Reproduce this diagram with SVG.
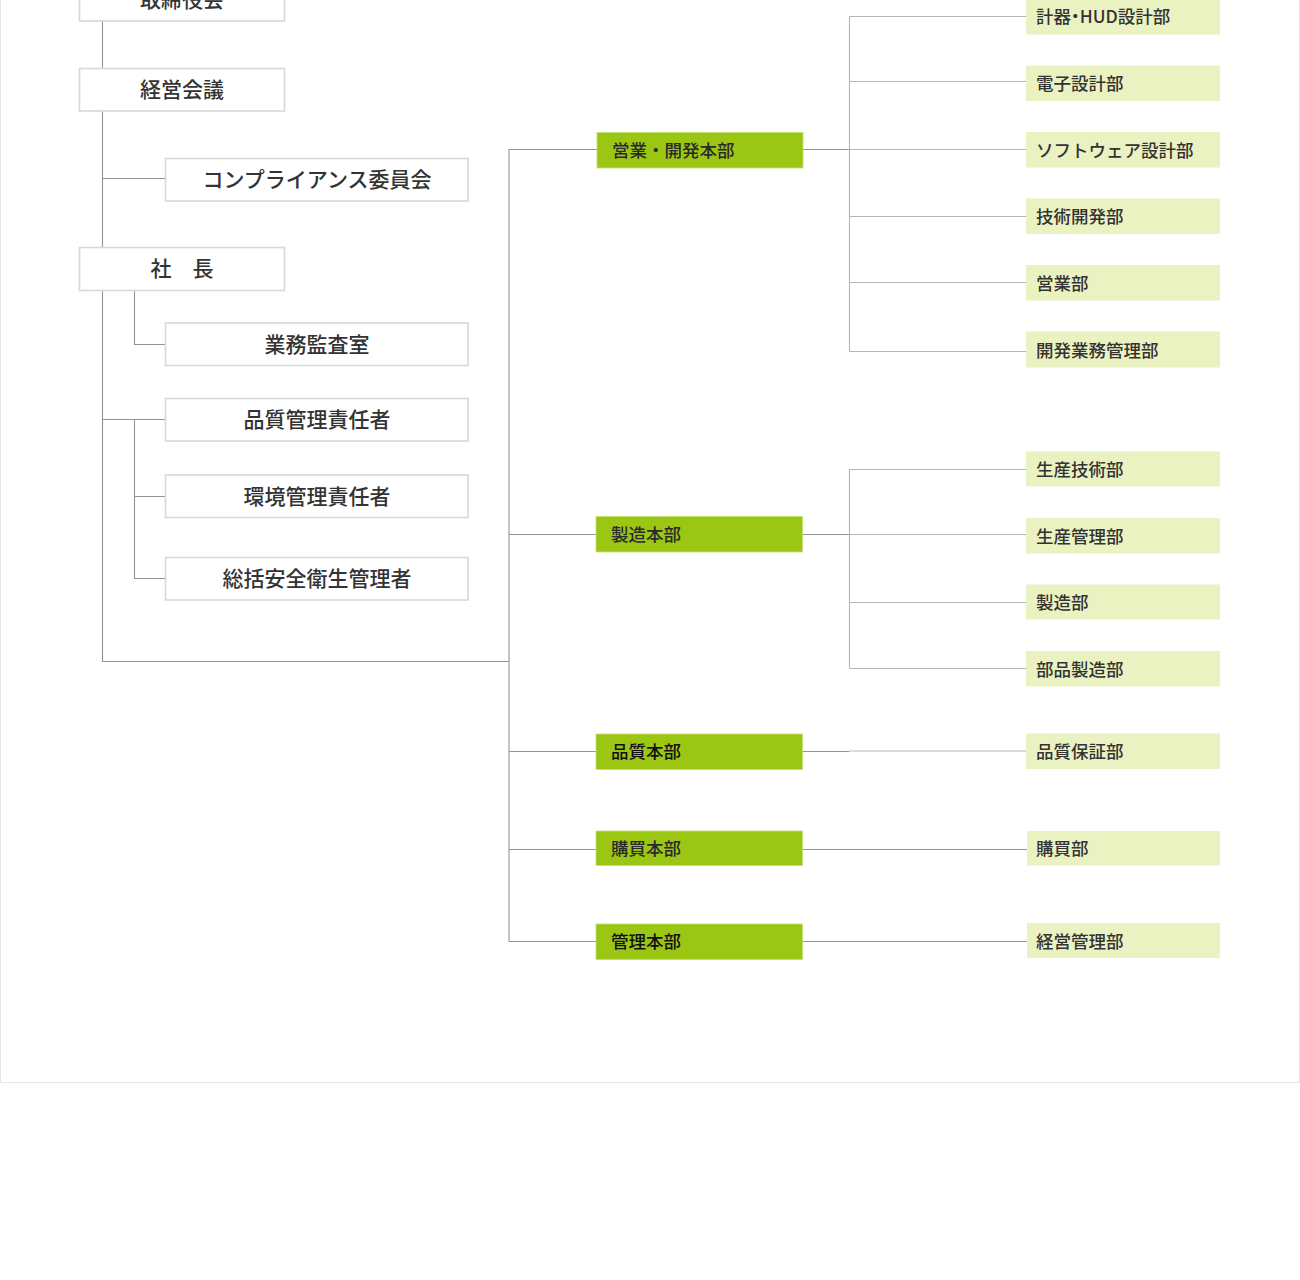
<svg xmlns="http://www.w3.org/2000/svg" width="1300" height="1280" viewBox="0 0 1300 1280">
<style>
.frame{fill:#fff;stroke:#e6e6e6;stroke-width:1}
.wb{fill:#fff;stroke:#d8d8d8;stroke-width:1.6}
.gb{fill:#9cc614;stroke:#c2df6e;stroke-width:0.8}
.lb{fill:#ebf2c2}
.ln{fill:none;stroke:#939393;stroke-width:1.1}
.ln2{fill:none;stroke:#b5b5b5;stroke-width:1.1}
text{font-family:"Noto Sans CJK JP","Noto Sans",sans-serif;font-weight:500;fill:#333}
.wt{font-size:21px;text-anchor:middle}
.gt{font-size:17.5px;fill:#2a2a2a}
.lt{font-size:17.5px}
</style>
<rect width="1300" height="1280" fill="#fff"/>
<rect class="frame" x="0.5" y="-10" width="1299" height="1092.5"/>
<g id="connectors">
<path class="ln" d="M102.5 21V68M102.5 111V247.5M102.5 178.5H165M102.5 290.5V661.5H509"/>
<path class="ln" d="M134.5 290.5V344.5H165M102.5 419.5H165M134.5 419.5V578.5H165M134.5 496.5H165"/>
<path class="ln" d="M509 149.5V941.5M509 149.5H597M509 534.5H596M509 751.5H596M509 849.5H596M509 941.5H596"/>
<path class="ln" d="M803 149.5H849.5"/>
<path class="ln2" d="M849.5 16.5V351.5M849.5 16.5H1026M849.5 81.5H1026M849.5 149.5H1026M849.5 216.5H1026M849.5 282.5H1026M849.5 351.5H1026"/>
<path class="ln" d="M803 534.5H849.5"/>
<path class="ln2" d="M849.5 469.5V668.5M849.5 469.5H1026M849.5 534.5H1026M849.5 602.5H1026M849.5 668.5H1026"/>
<path class="ln" d="M803 751.5H849"/>
<path class="ln2" d="M849 751H1026"/>
<path class="ln" d="M803 849.5H1027M803 941.5H1027"/>
</g>
<g id="n-torishimariyakukai"><rect class="wb" x="79.5" y="-22" width="205" height="43"/><text class="wt" x="182" y="7">取締役会</text></g>
<g id="n-keieikaigi"><rect class="wb" x="79.5" y="68.5" width="205" height="42.5"/><text class="wt" x="182" y="97">経営会議</text></g>
<g id="n-compliance"><rect class="wb" x="165.5" y="158.5" width="302.5" height="42.5"/><text class="wt" x="317" y="187">コンプライアンス委員会</text></g>
<g id="n-shacho"><rect class="wb" x="79.5" y="247.5" width="205" height="43"/><text class="wt" x="182" y="276">社　長</text></g>
<g id="n-gyomukansa"><rect class="wb" x="165.5" y="323" width="302.5" height="42.5"/><text class="wt" x="317" y="351.5">業務監査室</text></g>
<g id="n-hinshitsusekinin"><rect class="wb" x="165.5" y="398.5" width="302.5" height="42.5"/><text class="wt" x="317" y="427">品質管理責任者</text></g>
<g id="n-kankyosekinin"><rect class="wb" x="165.5" y="475" width="302.5" height="42.5"/><text class="wt" x="317" y="503.5">環境管理責任者</text></g>
<g id="n-anzeneisei"><rect class="wb" x="165.5" y="557.5" width="302.5" height="42.5"/><text class="wt" x="317" y="586">総括安全衛生管理者</text></g>
<g id="n-eigyokaihatsu"><rect class="gb" x="597" y="132.5" width="206" height="35.5"/><text class="gt" x="612" y="156.5">営業・開発本部</text></g>
<g id="n-seizo"><rect class="gb" x="596" y="516.5" width="206.5" height="35.5"/><text class="gt" x="611" y="540.5">製造本部</text></g>
<g id="n-hinshitsu"><rect class="gb" x="596" y="734" width="206.5" height="35.5"/><text class="gt" x="611" y="758" style="fill:#111">品質本部</text></g>
<g id="n-kobai"><rect class="gb" x="596" y="831" width="206.5" height="34.5"/><text class="gt" x="611" y="855">購買本部</text></g>
<g id="n-kanri"><rect class="gb" x="596" y="924" width="206.5" height="35.5"/><text class="gt" x="611" y="948" style="fill:#111">管理本部</text></g>
<g id="n-keiki"><rect class="lb" x="1026" y="-1.5" width="194" height="36"/><text class="lt" x="1036" y="23" style="font-feature-settings:'palt'">計器・HUD設計部</text></g>
<g id="n-denshi"><rect class="lb" x="1026" y="65.5" width="194" height="35.5"/><text class="lt" x="1036" y="90">電子設計部</text></g>
<g id="n-software"><rect class="lb" x="1026" y="132" width="194" height="35.5"/><text class="lt" x="1036" y="156.5">ソフトウェア設計部</text></g>
<g id="n-gijutsu"><rect class="lb" x="1026" y="198.5" width="194" height="35.5"/><text class="lt" x="1036" y="223">技術開発部</text></g>
<g id="n-eigyo"><rect class="lb" x="1026" y="265" width="194" height="35.5"/><text class="lt" x="1036" y="289.5">営業部</text></g>
<g id="n-kaihatsugyomu"><rect class="lb" x="1026" y="331.5" width="194" height="36"/><text class="lt" x="1036" y="356.5">開発業務管理部</text></g>
<g id="n-seisangijutsu"><rect class="lb" x="1026" y="451.5" width="194" height="35"/><text class="lt" x="1036" y="476">生産技術部</text></g>
<g id="n-seisankanri"><rect class="lb" x="1026" y="518" width="194" height="35.5"/><text class="lt" x="1036" y="542.5">生産管理部</text></g>
<g id="n-seizobu"><rect class="lb" x="1026" y="584.5" width="194" height="35"/><text class="lt" x="1036" y="609">製造部</text></g>
<g id="n-buhinseizo"><rect class="lb" x="1026" y="651" width="194" height="35.5"/><text class="lt" x="1036" y="675.5">部品製造部</text></g>
<g id="n-hinshitsuhosho"><rect class="lb" x="1026" y="733.5" width="194" height="35.5"/><text class="lt" x="1036" y="758">品質保証部</text></g>
<g id="n-kobaibu"><rect class="lb" x="1027" y="831" width="193" height="34.5"/><text class="lt" x="1036" y="855">購買部</text></g>
<g id="n-keieikanri"><rect class="lb" x="1027" y="923" width="193" height="35"/><text class="lt" x="1036" y="947.5">経営管理部</text></g>
</svg>
